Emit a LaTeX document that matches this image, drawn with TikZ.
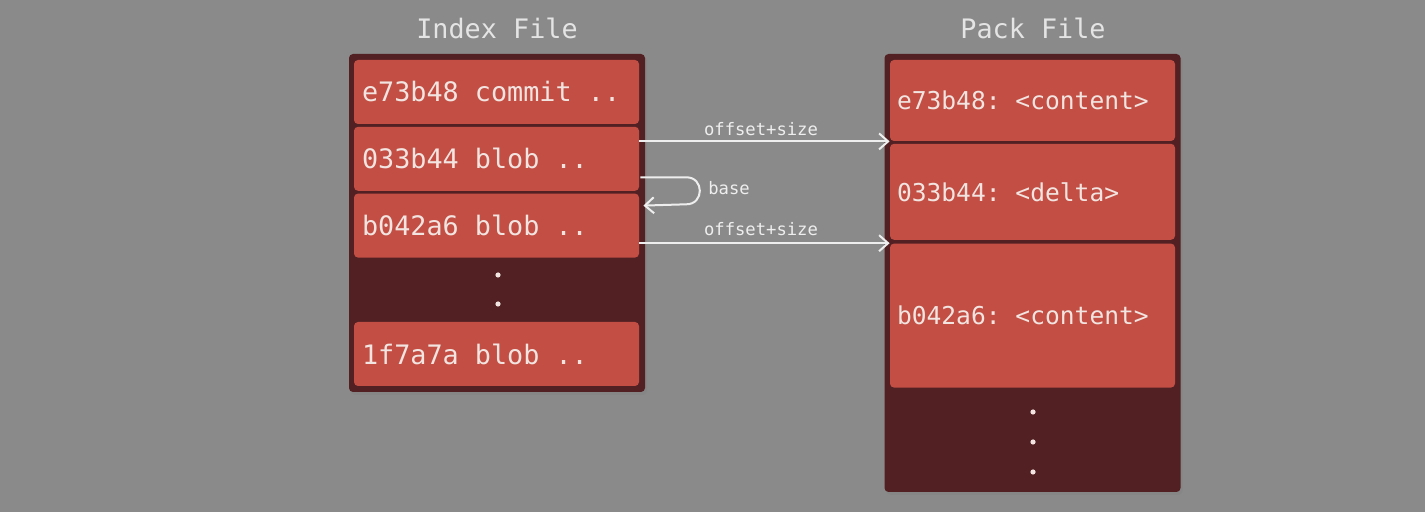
\documentclass[tikz,border=0pt]{standalone}
\usepackage{fontspec}
\setmonofont{DejaVu Sans Mono}
\usetikzlibrary{arrows.meta,positioning,calc,shadows}
\definecolor{bggray}{RGB}{138,138,138}
\definecolor{filedark}{RGB}{82,32,35}
\definecolor{entryred}{RGB}{194,78,68}
\definecolor{entrytext}{RGB}{242,228,224}
\definecolor{titletext}{RGB}{228,228,228}
\definecolor{arrowwhite}{RGB}{238,238,238}
\newcommand{\monosize}[1]{\ttfamily\fontsize{#1}{#1}\selectfont}

\begin{document}
\begin{tikzpicture}[x=0.5pt,y=-0.5pt]
	\begin{scope}[node distance=1pt,>={Straight Barb[length=4.5pt,width=8pt]},
		filebox/.style={rectangle,rounded corners=2pt,fill=filedark,minimum width=148pt,
			drop shadow={shadow xshift=1pt,shadow yshift=-1.5pt,opacity=0.35}},
		idxentry/.style={rectangle,rounded corners=2pt,fill=entryred,text=entrytext,
			font=\monosize{13.4},inner xsep=4pt,inner ysep=0pt,
			text width=134.5pt,align=left,minimum height=32pt,
			execute at begin node={\spaceskip=0.602em\xspaceskip=0.602em\relax}},
		packentry/.style={rectangle,rounded corners=2pt,fill=entryred,text=entrytext,
			font=\monosize{12.3},inner xsep=3.5pt,inner ysep=0pt,
			text width=135.5pt,align=left,
			execute at begin node={\spaceskip=0.602em\xspaceskip=0.602em\relax}},
		filetitle/.style={text=titletext,font=\monosize{13.4}},
		ptrlabel/.style={text=arrowwhite,font=\monosize{8.6}},
		ptr/.style={draw=arrowwhite,line width=1pt,->}]
		\fill [bggray] (0,0) rectangle (1425,512);
		% the two files
		\node [filebox, minimum height=169pt]		(idx)		at (497,223)		{};
		\node [filebox, minimum height=219pt]		(pack)		at (1032.5,273)	{};
		\node [filetitle]		(idxT)		at (497,28)		{Index File};
		\node [filetitle]		(packT)		at (1033,28)	{Pack File};
		% index entries
		\node [idxentry]		(e1)		at (496.5,92)	{e73b48 commit ..};
		\node [idxentry]		(e2)		[below=of e1]	{033b44 blob ..};
		\node [idxentry]		(e3)		[below=of e2]	{b042a6 blob ..};
		\node [idxentry]		(e4)		at (496.5,354)	{1f7a7a blob ..};
		\foreach \y in {275,304}
			\fill [entrytext] (498,\y) circle (1.3pt);
		% pack entries
		\node [packentry, minimum height=40.5pt]	(p1)	at (1032.5,100.5)	{e73b48: <content>};
		\node [packentry, minimum height=48pt]		(p2)	[below=of p1]		{033b44: <delta>};
		\node [packentry, minimum height=72pt]		(p3)	[below=1.5pt of p2]	{b042a6: <content>};
		\foreach \y in {412,442,472}
			\fill [entrytext] (1033,\y) circle (1.3pt);
		% pointers
		\coordinate (bs) at ($(e2.east)+(1,18.5)$);
		\coordinate (be) at ($(e3.east)+(4,-20)$);
		\draw [ptr] (e2.east |- p1.south west) -- (p1.south west);
		\draw [ptr] (e3.east |- p3.north west) -- (p3.north west);
		\draw [ptr] (bs) -- ++(46,0) to [out=0,in=0,looseness=1.7] ++(0,27) -- (be);
		\node [ptrlabel]		(off1)		at (761,129)	{offset+size};
		\node [ptrlabel]		(off2)		at (761,229)	{offset+size};
		\node [ptrlabel]		(base)		at (729,188)	{base};
	\end{scope}
\end{tikzpicture}
\end{document}
